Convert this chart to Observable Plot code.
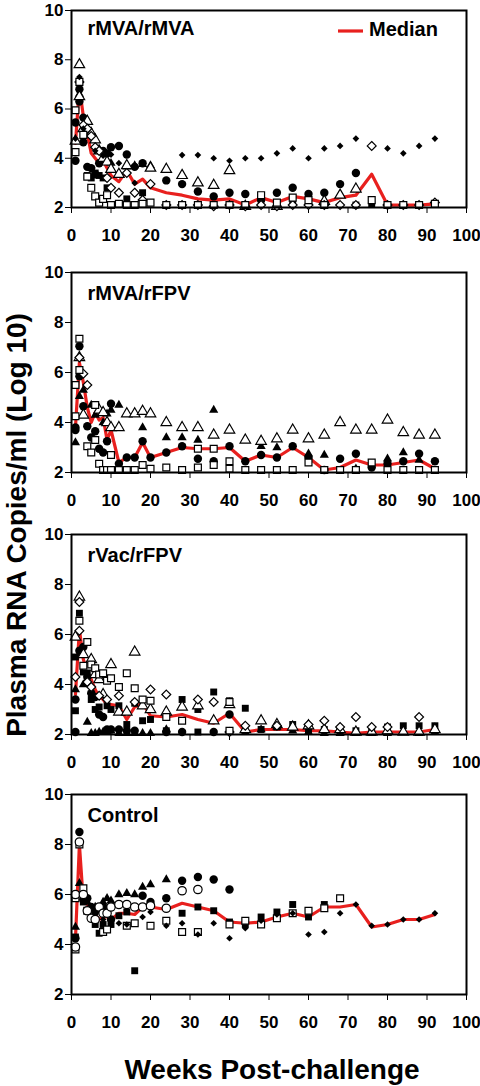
<!DOCTYPE html>
<html>
<head>
<meta charset="utf-8">
<script src="https://cdn.jsdelivr.net/npm/d3@7"></script>
<script src="https://cdn.jsdelivr.net/npm/@observablehq/plot@0.6"></script>
<style>
  html, body { margin: 0; padding: 0; background: white; }
  #root { position: relative; width: 480px; height: 1086px; overflow: hidden; font-family: "Liberation Sans", Arial, sans-serif; }
  .panel { position: absolute; left: 0; }
  #overlay { position: absolute; left: 0; top: 0; pointer-events: none; }
</style>
</head>
<body>
<div id="root"></div>
<script>
// ---------- tick values ----------
const xTicks = [0, 10, 20, 30, 40, 50, 60, 70, 80, 90, 100];
const yTicks = [2, 4, 6, 8, 10];
const panelLabels = ["rMVA/rMVA", "rMVA/rFPV", "rVac/rFPV", "Control"];

// ---------- Panel 1: rMVA/rMVA  ([week, log10 copies]) ----------
const p1Median = [[1,4.6],[2,6.9],[3,5.7],[4,5.0],[5,4.2],[6,4.0],[7,3.8],[8,3.9],[9,3.6],[10,3.3],[12,3.05],[14,3.5],[16,2.95],[18,3.15],[20,2.8],[24,2.6],[28,2.5],[32,2.35],[36,2.3],[40,2.35],[44,2.1],[48,2.4],[52,2.2],[56,2.45],[60,2.35],[64,2.2],[68,2.4],[72,2.5],[76,3.35],[80,2.1],[84,2.1],[88,2.1],[92,2.15]];
const p1FilledCircle = [[1,3.9],[1,5.45],[2,6.3],[2,6.8],[3,4.65],[3,5.65],[4,3.65],[5,3.6],[6,3.35],[7,3.8],[8,4.3],[9,4.2],[10,4.45],[12,4.5],[14,4.15],[16,3.65],[18,3.8],[24,3.1],[28,2.95],[32,2.65],[36,2.45],[40,2.6],[44,2.55],[48,2.3],[52,2.6],[56,2.8],[60,2.55],[64,2.6],[68,2.95],[72,3.4]];
const p1FilledSquare = [[4,3.3],[5,3.2],[6,3.4],[7,3.3],[8,3.2],[9,2.8],[12,2.15],[14,2.35],[18,2.6],[48,2.35],[56,2.15],[72,2.1],[76,2.15]];
const p1FilledTriangle = [[2,6.6],[10,3.8],[14,3.65],[16,3.7],[18,3.75],[20,3.7]];
const p1OpenTriangle = [[1,4.7],[2,7.8],[2,6.5],[3,5.2],[4,5.5],[5,5.0],[6,4.75],[7,4.3],[8,4.0],[9,3.85],[10,3.55],[12,3.35],[14,3.7],[20,3.6],[24,3.55],[28,3.3],[32,3.0],[36,2.9],[40,3.5],[44,2.05],[52,2.05],[64,2.25],[68,2.5],[72,2.75]];
const p1OpenDiamond = [[2,7.1],[3,5.35],[4,5.2],[5,4.9],[6,4.45],[7,4.3],[9,3.2],[10,2.8],[12,2.6],[14,3.4],[16,2.6],[18,2.3],[20,2.95],[24,2.1],[28,2.1],[32,2.1],[36,2.05],[40,2.1],[44,2.05],[48,2.1],[52,2.05],[56,2.1],[60,2.1],[64,2.1],[68,2.1],[72,2.1],[76,4.5],[80,2.1],[84,2.1],[88,2.1],[92,2.2]];
const p1OpenSquare = [[1,4.25],[1,5.95],[2,7.1],[3,4.95],[4,3.25],[5,2.8],[6,2.45],[7,2.2],[8,2.35],[9,2.5],[10,2.1],[12,2.15],[14,2.1],[16,2.1],[18,2.15],[20,2.2],[24,2.1],[28,2.1],[32,2.1],[36,2.1],[40,2.1],[44,2.1],[48,2.5],[52,2.2],[56,2.4],[60,2.3],[64,2.1],[76,2.3],[80,2.1],[84,2.1],[88,2.1],[92,2.15]];
const p1FilledDiamond = [[1,4.8],[2,7.3],[3,5.2],[6,4.3],[8,4.1],[10,4.15],[12,3.8],[16,3.0],[28,4.13],[32,4.13],[36,4.0],[40,3.9],[44,4.0],[48,4.0],[52,4.2],[56,4.4],[60,4.0],[64,4.4],[68,4.5],[72,4.8],[80,4.4],[84,4.2],[88,4.5],[92,4.8]];

// ---------- Panel 2: rMVA/rFPV ----------
const p2Median = [[1,3.8],[2,6.4],[3,5.6],[4,4.6],[5,4.0],[6,4.4],[7,4.1],[8,4.2],[9,3.3],[10,3.7],[12,2.4],[14,2.6],[16,2.6],[18,3.2],[20,2.6],[24,2.8],[28,3.0],[32,2.95],[36,2.95],[40,3.0],[44,2.45],[48,2.7],[52,2.6],[56,3.0],[60,2.6],[64,2.1],[68,2.2],[72,2.5],[76,2.3],[80,2.3],[84,2.4],[88,2.5],[92,2.15]];
const p2FilledCircle = [[1,3.7],[1,3.8],[2,5.85],[2,7.05],[3,4.65],[4,3.85],[5,3.4],[6,3.65],[7,2.95],[8,2.8],[9,3.25],[10,4.75],[12,2.35],[14,2.6],[16,2.6],[18,3.25],[20,2.6],[24,2.8],[28,3.05],[32,2.55],[36,2.45],[40,3.05],[44,2.45],[48,2.7],[52,2.6],[56,3.05],[60,2.6],[64,2.1],[68,2.55],[72,2.75],[76,2.2],[80,2.35],[84,2.45],[88,2.75],[92,2.45]];
const p2FilledTriangle = [[1,3.2],[2,5.05],[3,5.3],[5,4.7],[6,4.3],[8,4.0],[9,4.35],[10,4.5],[12,4.7],[18,3.8],[24,3.4],[28,3.4],[32,3.3],[36,4.5],[48,3.05],[52,3.0],[60,2.75],[64,2.7],[72,2.15],[80,2.55],[84,2.8],[88,2.5]];
const p2OpenTriangle = [[2,6.6],[3,4.3],[7,4.5],[8,4.4],[9,4.0],[10,3.8],[12,3.8],[14,4.35],[16,4.35],[18,4.45],[20,4.35],[24,4.0],[28,3.8],[32,3.8],[36,3.5],[40,3.7],[44,3.3],[48,3.25],[52,3.35],[56,3.7],[60,3.35],[64,3.5],[68,4.0],[72,3.7],[76,3.7],[80,4.1],[84,3.6],[88,3.5],[92,3.5]];
const p2OpenDiamond = [[2,6.6],[3,5.95],[4,5.5]];
const p2OpenSquare = [[1,4.25],[1,5.5],[2,7.35],[2,6.1],[4,3.05],[5,2.8],[6,3.3],[6,4.7],[7,2.35],[8,2.1],[9,2.1],[10,2.7],[10,2.1],[12,2.1],[14,2.1],[16,2.1],[18,2.3],[20,2.15],[24,2.2],[28,2.1],[32,2.95],[32,2.2],[36,2.3],[36,2.95],[40,2.45],[40,2.15],[44,2.1],[48,2.1],[52,2.1],[56,2.1],[60,2.4],[64,2.1],[68,2.1],[72,2.1],[76,2.4],[80,2.1],[84,2.1],[88,2.1],[92,2.1]];

// ---------- Panel 3: rVac/rFPV ----------
const p3Median = [[1,3.6],[2,6.2],[3,5.0],[4,4.5],[5,4.2],[6,3.8],[7,3.5],[8,3.4],[9,3.2],[10,3.2],[12,3.15],[14,2.6],[16,3.1],[18,3.25],[20,2.75],[24,2.7],[28,2.8],[32,2.6],[36,2.45],[40,2.85],[44,2.1],[48,2.2],[52,2.2],[56,2.2],[60,2.15],[64,2.15],[68,2.1],[72,2.05],[76,2.1],[80,2.1],[84,2.1],[88,2.1],[92,2.2]];
const p3FilledCircle = [[1,2.1],[1,3.4],[2,5.35],[3,5.5],[4,4.3],[5,3.65],[6,3.5],[7,2.8],[8,2.7],[9,2.2],[10,2.2],[12,2.2],[14,2.15],[16,2.15],[24,2.1],[28,2.1],[36,2.1],[40,2.8]];
const p3FilledSquare = [[1,2.95],[1,5.1],[2,6.85],[3,4.5],[4,4.45],[5,3.4],[6,3.0],[7,3.1],[9,3.15],[10,3.0],[12,3.15],[14,2.4],[16,3.25],[18,2.55],[20,2.6],[24,2.15],[28,3.4],[32,2.1],[32,3.0],[36,3.7],[40,3.35],[44,3.05],[48,2.2],[52,2.3],[56,2.4],[60,2.2],[64,2.2],[68,2.15],[72,2.15],[76,2.15],[80,2.3],[84,2.35],[88,2.35],[92,2.35]];
const p3FilledTriangle = [[1,3.8],[3,4.0],[4,2.5],[5,2.05],[6,2.05],[7,2.1],[8,2.1],[9,2.1],[10,2.15],[12,2.05],[14,2.05],[16,2.05],[18,2.05],[20,2.05],[24,2.2],[44,2.1],[48,2.2],[52,2.3],[56,2.15],[60,2.1],[64,2.05],[68,2.05],[72,2.05],[76,2.05],[80,2.05],[84,2.1],[88,2.05],[92,2.1]];
const p3OpenTriangle = [[1,5.9],[2,7.5],[3,5.2],[4,4.7],[5,5.0],[6,4.4],[7,4.2],[8,3.6],[10,4.8],[12,2.9],[14,2.9],[16,5.3],[18,3.15],[20,3.0],[24,2.9],[28,3.1],[32,3.15],[36,2.55],[40,3.2],[44,2.2],[48,2.55],[52,2.4],[56,2.3],[60,2.35],[64,2.2],[68,2.2],[72,2.1],[76,2.1],[80,2.15],[84,2.1],[88,2.1],[92,2.2]];
const p3OpenDiamond = [[1,4.3],[2,7.3],[2,6.15],[4,4.1],[5,3.9],[7,3.55],[9,3.4],[12,3.55],[16,3.3],[20,3.8],[24,3.6],[32,3.4],[36,3.3],[40,2.1],[44,2.35],[52,2.35],[60,2.4],[64,2.55],[68,2.3],[72,2.7],[76,2.3],[80,2.3],[88,2.7]];
const p3OpenSquare = [[2,6.55],[3,4.75],[4,5.7],[5,4.8],[6,4.65],[7,4.4],[8,4.45],[9,4.15],[10,4.25],[12,3.9],[14,4.45],[16,3.85],[18,3.4],[20,3.35],[24,2.7],[28,2.55],[40,3.3],[40,2.15]];

// ---------- Panel 4: Control ----------
const p4Median = [[1,4.2],[2,8.0],[3,5.7],[4,5.6],[5,5.5],[6,5.2],[7,5.0],[8,5.1],[9,5.1],[10,5.0],[12,5.25],[14,5.25],[16,5.2],[18,5.5],[20,5.5],[24,5.4],[28,5.65],[32,5.5],[36,5.35],[40,4.9],[44,4.85],[48,4.9],[52,5.1],[56,5.25],[60,5.1],[64,5.5],[68,5.5],[72,5.6],[76,4.7],[80,4.8],[84,5.0],[88,5.0],[92,5.2]];
const p4FilledCircle = [[1,4.25],[2,8.5],[3,5.8],[4,5.85],[5,5.5],[6,5.3],[8,5.5],[10,5.0],[18,5.95],[20,5.7],[24,5.85],[28,6.55],[32,6.7],[36,6.6],[40,6.2]];
const p4FilledSquare = [[1,4.3],[3,5.7],[6,4.8],[7,4.45],[8,4.8],[10,4.8],[12,5.15],[14,5.3],[16,2.95],[28,5.25],[32,5.5],[36,5.35],[40,4.9],[44,4.8],[48,5.1],[52,5.3],[56,5.6],[60,5.1],[64,5.6]];
const p4FilledTriangle = [[1,4.7],[2,6.45],[4,5.7],[6,5.5],[8,5.7],[9,5.85],[10,5.75],[12,6.0],[14,6.05],[16,6.0],[18,6.3],[20,6.4],[24,6.6]];
const p4OpenSquare = [[1,3.8],[1,5.85],[2,8.0],[3,6.25],[4,5.35],[8,4.5],[9,4.6],[14,4.75],[16,4.85],[20,4.75],[24,4.95],[28,4.5],[32,4.5],[40,4.8],[44,4.95],[48,4.8],[52,5.05],[56,5.25],[60,5.35],[64,5.45],[68,5.85]];
const p4OpenCircle = [[1,3.9],[1,6.0],[2,8.1],[3,6.0],[4,5.35],[5,5.05],[6,5.0],[7,5.5],[8,5.25],[9,5.25],[10,5.5],[12,5.6],[14,5.6],[16,5.5],[18,5.5],[20,5.55],[24,5.45],[28,6.15],[32,6.2]];
const p4FilledDiamond = [[1,4.3],[8,5.0],[10,4.85],[12,4.85],[14,4.8],[18,5.1],[20,5.3],[24,4.75],[28,4.85],[32,4.4],[36,4.85],[40,4.25],[44,4.65],[48,4.95],[52,5.2],[56,5.25],[60,4.4],[64,4.5],[68,5.25],[72,5.6],[76,4.75],[80,4.8],[84,5.0],[88,5.0],[92,5.25]];

// ---------- symbol styles ----------
const symbolStyles = {
  filledCircle:   {symbol: "circle",   r: 4.2, fill: "black"},
  filledSquare:   {symbol: "square",   r: 3.9, fill: "black"},
  filledTriangle: {symbol: "triangle", r: 3.4, fill: "black"},
  openTriangle:   {symbol: "triangle", r: 3.9, fill: "white", stroke: "black", strokeWidth: 1.2},
  openDiamond:    {symbol: "diamond2", r: 4.0, fill: "white", stroke: "black", strokeWidth: 1.2},
  openSquare:     {symbol: "square",   r: 3.9, fill: "white", stroke: "black", strokeWidth: 1.2},
  openCircle:     {symbol: "circle",   r: 4.2, fill: "white", stroke: "black", strokeWidth: 1.2},
  filledDiamond:  {symbol: "diamond2", r: 3.0, fill: "black"}
};
const drawOrder = ["filledCircle","filledSquare","filledTriangle","openTriangle","openDiamond","openSquare","openCircle","filledDiamond"];

const panels = [
  {label: panelLabels[0], median: p1Median, series: {filledCircle: p1FilledCircle, filledSquare: p1FilledSquare, filledTriangle: p1FilledTriangle, openTriangle: p1OpenTriangle, openDiamond: p1OpenDiamond, openSquare: p1OpenSquare, filledDiamond: p1FilledDiamond}},
  {label: panelLabels[1], median: p2Median, series: {filledCircle: p2FilledCircle, filledTriangle: p2FilledTriangle, openTriangle: p2OpenTriangle, openDiamond: p2OpenDiamond, openSquare: p2OpenSquare}},
  {label: panelLabels[2], median: p3Median, series: {filledCircle: p3FilledCircle, filledSquare: p3FilledSquare, filledTriangle: p3FilledTriangle, openTriangle: p3OpenTriangle, openDiamond: p3OpenDiamond, openSquare: p3OpenSquare}},
  {label: panelLabels[3], median: p4Median, series: {filledCircle: p4FilledCircle, filledSquare: p4FilledSquare, filledTriangle: p4FilledTriangle, openSquare: p4OpenSquare, openCircle: p4OpenCircle, filledDiamond: p4FilledDiamond}}
];
// layout: svg top offset and top margin of each panel
const panelTops = [0, 265, 527, 787];
const panelMarginTops = [10, 7, 7, 7];
const RED = "#e8201e";

const root = document.getElementById("root");
const toRows = arr => arr.map(([week, value]) => ({week, value}));

panels.forEach((p, i) => {
  const marks = [
    Plot.line(toRows(p.median), {x: "week", y: "value", stroke: RED, strokeWidth: 3.2, strokeLinejoin: "round"})
  ];
  drawOrder.forEach(key => {
    if (p.series[key]) marks.push(Plot.dot(toRows(p.series[key]), {x: "week", y: "value", ...symbolStyles[key]}));
  });
  marks.push(Plot.frame({stroke: "black", strokeWidth: 2}));
  marks.push(Plot.text([p.label], {frameAnchor: "top-left", textAnchor: "start", lineAnchor: "top", dx: 16, dy: 13 - (panelMarginTops[i] - 7), fontSize: 20, fontWeight: "bold", fill: "black"}));
  const chart = Plot.plot({
    width: 480,
    height: 262,
    marginLeft: 71,
    marginRight: 14,
    marginTop: panelMarginTops[i],
    marginBottom: 55,
    style: {background: "transparent", fontFamily: "'Liberation Sans', Arial, sans-serif", fontSize: "17px", fontWeight: "bold", color: "black", overflow: "visible"},
    x: {domain: [0, 100], ticks: xTicks, tickSize: 6, tickPadding: 15, label: null},
    y: {domain: [2, 10], ticks: yTicks, tickSize: 6, tickPadding: 2, label: null},
    marks
  });
  const wrap = document.createElement("div");
  wrap.className = "panel";
  wrap.style.top = panelTops[i] + "px";
  wrap.appendChild(chart);
  root.appendChild(wrap);
});

// ---------- titles and legend ----------
const overlay = d3.select(root).append("svg")
  .attr("id", "overlay")
  .attr("width", 480).attr("height", 1086)
  .style("font-family", "'Liberation Sans', Arial, sans-serif")
  .style("font-weight", "bold");
overlay.append("text")
  .attr("transform", "translate(26,525) rotate(-90)")
  .attr("text-anchor", "middle")
  .attr("font-size", 28)
  .text("Plasma RNA Copies/ml (Log 10)");
overlay.append("text")
  .attr("x", 272).attr("y", 1079)
  .attr("text-anchor", "middle")
  .attr("font-size", 28)
  .text("Weeks Post-challenge");
overlay.append("line")
  .attr("x1", 338).attr("x2", 363).attr("y1", 31).attr("y2", 31)
  .attr("stroke", RED).attr("stroke-width", 3.2);
overlay.append("text")
  .attr("x", 369).attr("y", 36)
  .attr("font-size", 20)
  .text("Median");
</script>
</body>
</html>
